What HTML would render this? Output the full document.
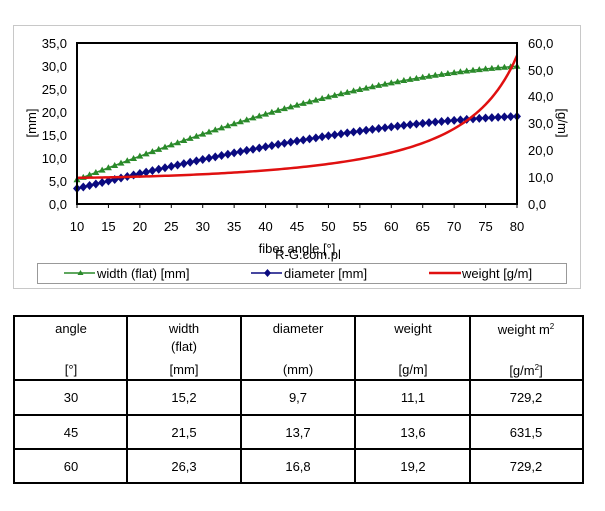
<!DOCTYPE html>
<html><head><meta charset="utf-8"><style>
body{margin:0;background:#fff;width:605px;height:511px;overflow:hidden;font-family:"Liberation Sans",sans-serif}
svg{position:absolute;left:0;top:0}
</style></head><body>
<svg id="s" width="605" height="511" xmlns="http://www.w3.org/2000/svg" font-family="Liberation Sans, sans-serif">
<rect x="13.5" y="25.5" width="567" height="263" fill="#fff" stroke="#c8c8c8" stroke-width="1"/>
<g id="g"></g>
<rect x="77" y="43" width="440" height="161" fill="none" stroke="#000" stroke-width="2"/>
<g font-size="13" fill="#000">
<g text-anchor="end">
<text x="67" y="48">35,0</text><text x="67" y="71">30,0</text><text x="67" y="94">25,0</text><text x="67" y="117">20,0</text><text x="67" y="140">15,0</text><text x="67" y="163">10,0</text><text x="67" y="186">5,0</text><text x="67" y="209">0,0</text>
</g>
<text x="528" y="48">60,0</text><text x="528" y="75">50,0</text><text x="528" y="101">40,0</text><text x="528" y="128">30,0</text><text x="528" y="155">20,0</text><text x="528" y="182">10,0</text><text x="528" y="209">0,0</text>
<text transform="translate(36,123) rotate(-90)" text-anchor="middle">[mm]</text>
<text transform="translate(558,123) rotate(90)" text-anchor="middle">[g/m]</text>
<g id="xl" text-anchor="middle"></g>
<text x="297" y="253" text-anchor="middle">fiber angle [°]</text>
<text x="308" y="259" text-anchor="middle">R-G.com.pl</text>
</g>
<rect x="37.5" y="263.5" width="529" height="20" fill="#fff" stroke="#999"/>
<g font-size="13">
<line x1="64" y1="273" x2="95" y2="273" stroke="#2a8a2a" stroke-width="1.5"/><path d="M80.5 270 L83.5 275 L77.5 275Z" fill="#2a8a2a"/>
<text x="97" y="278">width (flat) [mm]</text>
<line x1="251" y1="273" x2="282" y2="273" stroke="#0a0a80" stroke-width="1.5"/><path d="M267.5 269 L271 273 L267.5 277 L264 273Z" fill="#0a0a80"/>
<text x="284" y="278">diameter [mm]</text>
<line x1="429" y1="273" x2="461" y2="273" stroke="#e01010" stroke-width="2.5"/>
<text x="462" y="278">weight [g/m]</text>
</g>
<g stroke="#000" stroke-width="2" fill="none">
<rect x="14" y="316" width="569" height="167"/>
<line x1="127" y1="316" x2="127" y2="483"/><line x1="241" y1="316" x2="241" y2="483"/><line x1="355" y1="316" x2="355" y2="483"/><line x1="470" y1="316" x2="470" y2="483"/>
<line x1="14" y1="380" x2="583" y2="380"/><line x1="14" y1="415" x2="583" y2="415"/><line x1="14" y1="449" x2="583" y2="449"/>
</g>
<g font-size="13" text-anchor="middle">
<text x="71" y="333">angle</text><text x="71" y="374">[°]</text>
<text x="184" y="333">width</text><text x="184" y="351">(flat)</text><text x="184" y="374">[mm]</text>
<text x="298" y="333">diameter</text><text x="298" y="374">(mm)</text>
<text x="413" y="333">weight</text><text x="413" y="374">[g/m]</text>
<text x="526" y="334">weight m<tspan font-size="8" dy="-5">2</tspan></text><text x="526" y="375">[g/m<tspan font-size="8" dy="-5">2</tspan><tspan dy="5">]</tspan></text>
<text x="71" y="402">30</text><text x="184" y="402">15,2</text><text x="298" y="402">9,7</text><text x="413" y="402">11,1</text><text x="526" y="402">729,2</text>
<text x="71" y="437">45</text><text x="184" y="437">21,5</text><text x="298" y="437">13,7</text><text x="413" y="437">13,6</text><text x="526" y="437">631,5</text>
<text x="71" y="471">60</text><text x="184" y="471">26,3</text><text x="298" y="471">16,8</text><text x="413" y="471">19,2</text><text x="526" y="471">729,2</text>
</g>
</svg>
<script>
var g=document.getElementById('g'),xl=document.getElementById('xl'),h='',t='';
function X(a){return 77+(a-10)*440/70}
function YL(v){return 204-v*161/35}
function YR(v){return 204-v*161/60}
for(var a=10;a<=80;a+=5){t+='<text x="'+X(a)+'" y="231">'+a+'</text>';h+='<line x1="'+X(a)+'" y1="204" x2="'+X(a)+'" y2="208" stroke="#000"/>';}
xl.innerHTML=t;
var r=Math.PI/180,pw='',pd='',pr='',mk='';
for(var a=10;a<=80;a+=0.5){var w=30.4*Math.sin(a*r),d=2*w/Math.PI,wt=9.6/Math.cos(a*r);
pw+=X(a)+','+YL(w)+' ';pd+=X(a)+','+YL(d)+' ';pr+=X(a)+','+YR(wt)+' ';}
for(var a=10;a<=80;a+=1){var w=30.4*Math.sin(a*r),d=2*w/Math.PI,x=X(a),y=YL(w),yd=YL(d);
mk+='<path d="M'+x+' '+(y-3.5)+' L'+(x+3.5)+' '+(y+2.5)+' L'+(x-3.5)+' '+(y+2.5)+'Z" fill="#2a8a2a"/>';
mk+='<path d="M'+x+' '+(yd-4.5)+' L'+(x+4)+' '+yd+' L'+x+' '+(yd+4.5)+' L'+(x-4)+' '+yd+'Z" fill="#0a0a80"/>';}
h+='<polyline points="'+pw+'" fill="none" stroke="#2a8a2a" stroke-width="1.5"/>';
h+='<polyline points="'+pd+'" fill="none" stroke="#0a0a80" stroke-width="1.5"/>';
h+=mk;
h+='<polyline points="'+pr+'" fill="none" stroke="#e01010" stroke-width="2.5"/>';
g.innerHTML=h;
</script>
</body></html>
